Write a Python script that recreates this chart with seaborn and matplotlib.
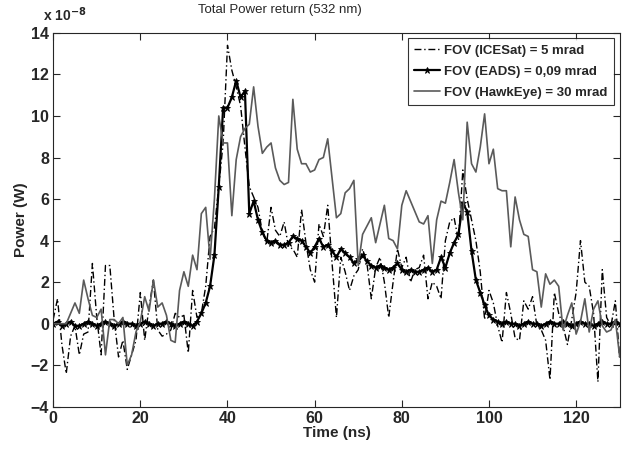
import numpy as np
import pandas as pd
import matplotlib
matplotlib.use("Agg")
import matplotlib.pyplot as plt
import seaborn as sns

# time axis (ns), one sample per ns
time_ns = list(range(0, 131))

# power values in units of 1e-8 W
icesat = [0.2, 1.2, -1.0, -2.4, -0.6, -0.1, -1.5, -0.5, -0.4, 2.9,
          0.3, -1.5, 2.8, 2.8, 0.2, -1.6, -0.8, -2.2, -1.5, -0.8,
          1.5, -0.8, 0.8, 2.1, -0.3, -0.6, -0.5, -0.3, 0.5, 0.3,
          0.4, -1.4, 1.6, 0.3, 0.5, 1.8, 4.2, 4.6, 6.6, 8.7,
          13.4, 12.2, 11.4, 10.5, 8.5, 6.6, 6.1, 5.6, 4.4, 3.9,
          5.6, 4.5, 4.2, 4.9, 3.7, 3.6, 3.2, 5.5, 3.9, 2.6,
          2.0, 4.8, 4.2, 5.7, 2.9, 0.3, 3.2, 2.5, 1.6, 2.3,
          2.6, 3.6, 2.9, 1.2, 2.7, 3.2, 2.0, 0.3, 2.0, 3.6,
          2.7, 3.2, 2.0, 2.6, 2.7, 3.3, 1.2, 2.0, 1.8, 1.2,
          4.0, 4.9, 5.1, 4.0, 7.4, 6.0, 5.0, 4.0, 2.5, 0.2,
          1.6, 1.0, -0.1, -0.9, 1.5, 0.5, -0.7, -0.8, 1.1, 0.7,
          1.3, -0.1, -0.3, -0.8, -2.7, 1.5, 0.5, -0.1, -1.0, 0.2,
          1.5, 4.0, 2.0, 1.8, 0.5, -2.8, 2.6, 0.3, -0.1, 1.1,
          -1.7]

eads = [0.0, 0.1, -0.1, 0.0, 0.1, -0.1, -0.1, 0.0, 0.1, 0.0,
        -0.1, 0.0, 0.1, 0.0, -0.1, 0.0, 0.1, 0.0, 0.0, -0.1,
        0.0, 0.1, 0.0, -0.1, 0.0, 0.0, 0.1, 0.0, -0.1, 0.0,
        0.1, 0.0, -0.1, 0.1, 0.5, 1.0, 1.8, 3.3, 6.6, 10.4,
        10.4, 10.9, 11.7, 10.9, 11.2, 5.3, 5.9, 5.0, 4.4, 4.0,
        3.9, 4.0, 3.8, 3.8, 3.9, 4.2, 4.1, 4.0, 3.7, 3.4,
        3.7, 4.1, 3.7, 3.8, 3.5, 3.2, 3.6, 3.4, 3.2, 2.9,
        3.1, 3.3, 3.0, 2.8, 2.7, 2.8, 2.7, 2.6, 2.7, 2.9,
        2.6, 2.5, 2.6, 2.5, 2.5, 2.6, 2.7, 2.5, 2.6, 3.2,
        2.7, 3.4, 3.9, 4.3, 5.8, 5.4, 3.5, 2.1, 1.5, 0.9,
        0.4, 0.2, 0.1, 0.0, 0.1, 0.0, 0.0, -0.1, 0.0, 0.1,
        0.0, 0.0, -0.1, 0.0, 0.1, 0.0, 0.0, 0.1, 0.0, -0.1,
        0.0, 0.1, 0.0, 0.0, -0.1, 0.0, 0.1, 0.0, 0.0, 0.1,
        0.0]

hawkeye = [0.0, 0.0, 0.0, 0.0, 0.5, 1.0, 0.5, 2.1, 1.2, 0.4,
           0.3, 0.7, -1.5, 0.2, 0.2, 0.0, 0.3, -2.0, -1.5, -0.4,
           0.1, 1.3, 0.6, 2.1, 0.8, 1.0, 0.4, -0.8, -0.9, 1.6,
           2.5, 1.8, 3.3, 2.6, 5.3, 5.6, 3.1, 6.0, 10.0, 8.7,
           8.7, 5.2, 7.9, 9.0, 9.4, 9.6, 11.4, 9.5, 8.2, 8.5,
           8.7, 7.5, 6.9, 6.7, 6.8, 10.8, 8.4, 7.7, 7.7, 7.3,
           7.4, 7.9, 8.0, 8.9, 7.0, 5.1, 5.3, 6.3, 6.5, 6.9,
           2.8, 4.3, 4.7, 5.1, 3.9, 4.8, 5.7, 4.1, 4.0, 3.6,
           5.7, 6.4, 5.9, 5.4, 4.9, 4.8, 5.2, 2.9, 5.0, 5.9,
           5.8, 6.8, 7.9, 6.3, 5.0, 9.7, 7.7, 7.3, 8.5, 10.1,
           7.7, 8.4, 6.5, 6.4, 6.4, 3.7, 6.1, 5.0, 4.3, 4.2,
           2.6, 2.5, 0.8, 2.4, 1.9, 2.1, 1.8, -0.3, 0.4, 1.0,
           -0.5, 0.1, 1.2, -0.4, 0.7, 1.1, -0.1, -0.4, -0.3, 0.2,
           -1.6]

labels = ["FOV (ICESat) = 5 mrad", "FOV (EADS) = 0,09 mrad", "FOV (HawkEye) = 30 mrad"]

df = pd.DataFrame({"time": time_ns, "icesat": icesat, "eads": eads, "hawkeye": hawkeye})

sns.set_style("ticks")
plt.rcParams["font.family"] = ["Liberation Sans", "DejaVu Sans"]
plt.rcParams["font.weight"] = "bold"

fig = plt.figure(figsize=(6.33, 4.5), dpi=100)
ax = fig.add_axes([0.084, 0.096, 0.895, 0.831])

sns.lineplot(data=df, x="time", y="icesat", ax=ax, color="black", linewidth=1.0,
             linestyle=(0, (5, 2, 1, 2)), label=labels[0])
sns.lineplot(data=df, x="time", y="eads", ax=ax, color="black", linewidth=1.6,
             marker="*", markersize=5, markerfacecolor="black",
             markeredgecolor="black", markeredgewidth=0.6, label=labels[1])
sns.lineplot(data=df, x="time", y="hawkeye", ax=ax, color="#5a5a5a", linewidth=1.2,
             label=labels[2])

ax.set_xlim(0, 130)
ax.set_ylim(-4, 14)
ax.set_xticks(range(0, 121, 20))
ax.set_yticks(range(-4, 15, 2))
ax.tick_params(direction="in", top=True, right=True, labelsize=11.5, length=5, width=0.8, pad=3)
for lab in ax.get_xticklabels() + ax.get_yticklabels():
    lab.set_fontweight("bold")
for sp in ax.spines.values():
    sp.set_linewidth(0.8)

ax.set_xlabel("Time (ns)", fontsize=11, fontweight="bold", labelpad=0)
ax.set_ylabel("Power (W)", fontsize=11, fontweight="bold", labelpad=2)
# title sits left of the axes centre in the original
ax.text(0.40, 1.045, "Total Power return (532 nm)", transform=ax.transAxes,
        fontsize=9.5, fontweight="normal", ha="center", va="bottom")
ax.text(-0.018, 1.025, "x 10$^{-8}$", transform=ax.transAxes, fontsize=10,
        fontweight="bold", ha="left", va="bottom")

leg = ax.legend(loc="upper right", fontsize=9.5, frameon=True, fancybox=False,
                borderaxespad=0.4, handlelength=2.0, handletextpad=0.3,
                labelspacing=0.65, borderpad=0.5)
leg.get_frame().set_edgecolor("black")
leg.get_frame().set_linewidth(0.8)
for t in leg.get_texts():
    t.set_fontweight("bold")

fig.savefig("out.png", dpi=100)
